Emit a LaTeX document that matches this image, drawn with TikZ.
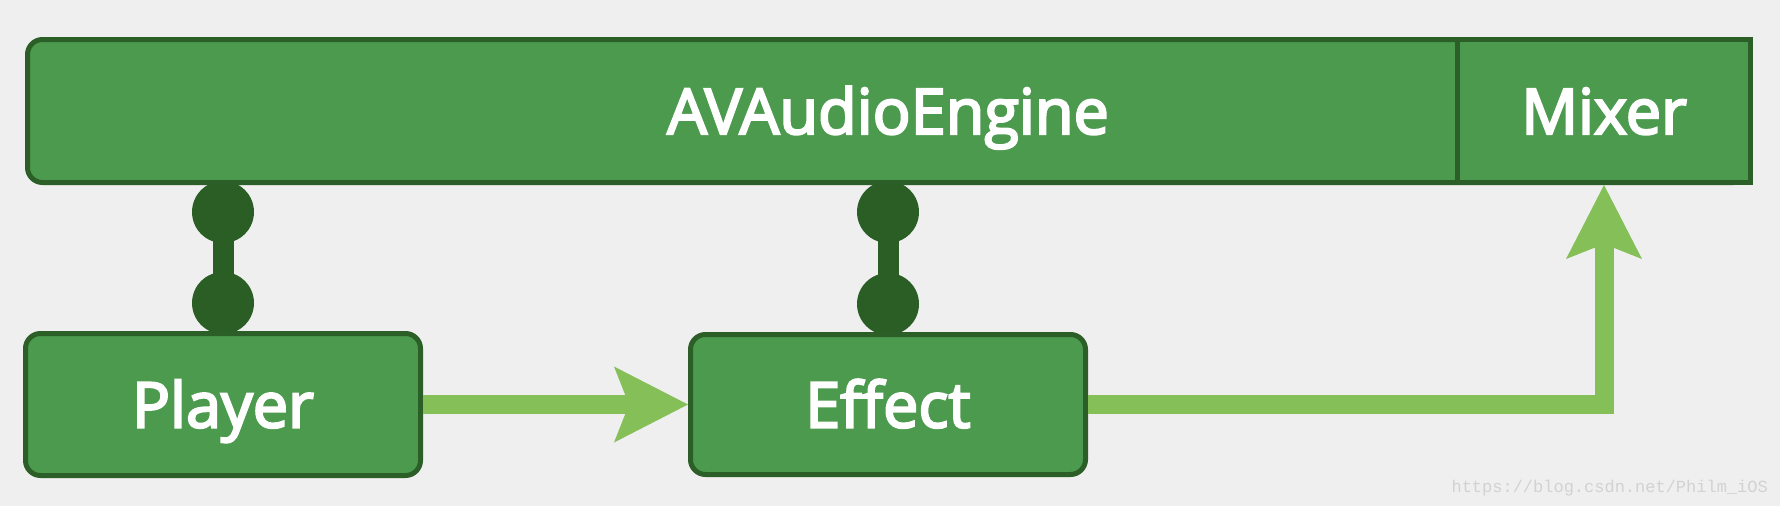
\documentclass[tikz,border=0pt]{standalone}
\usepackage{fontspec}
\setmainfont{Open Sans}
\newfontfamily\boxfont[FakeBold=3.5]{Open Sans}
\newfontfamily\wmfont{Liberation Mono}
\usetikzlibrary{arrows.meta,shadows,calc}
\pgfdeclarelayer{bg}
\pgfsetlayers{bg,main}
\definecolor{bgc}{HTML}{EFEFEF}
\definecolor{boxfill}{HTML}{4B9A4D}
\definecolor{boxline}{HTML}{2B5F27}
\definecolor{linkc}{HTML}{2A5E24}
\definecolor{arrowc}{HTML}{84BF58}
\definecolor{wmc}{HTML}{D2D2D2}
\begin{document}
\begin{tikzpicture}[x=1pt,y=-1pt,
  box/.style={draw=boxline, fill=boxfill, line width=5pt, text=white,
    font=\boxfont\fontsize{63}{70}\selectfont, inner sep=0pt, text height=46pt, text depth=0pt,
    drop shadow={opacity=0.25,shadow xshift=1pt,shadow yshift=-2pt}},
  rbox/.style={box, rounded corners=15pt},
  flow/.style={draw=arrowc, line width=19pt,
    -{Stealth[length=74pt,width=76pt,inset=15pt,line width=0pt]}},
  link/.style={draw=linkc, line width=21pt},
  knob/.style={fill=linkc}]
\useasboundingbox (0,0) rectangle (1780,506);
\node[rbox, minimum width=1721pt, minimum height=143pt] (engine) at (888,111) {AVAudioEngine};
\node[box, minimum width=293pt, minimum height=143pt] (mixer) at (1604,111) {Mixer};
\node[rbox, minimum width=395pt, minimum height=142pt] (player) at (223,404.5) {Player};
\node[rbox, minimum width=395pt, minimum height=140pt] (effect) at (888,404.5) {Effect};
\node[anchor=base east, text=wmc, font=\wmfont\fontsize{17}{20}\selectfont, inner sep=0pt] (wm) at (1768,492) {https://blog.csdn.net/Philm\_iOS};
\begin{pgfonlayer}{bg}
  \fill[bgc] (0,0) rectangle (1780,506);
  \coordinate (pa) at ($(engine.south -| player.north)+(0,27)$);
  \coordinate (pb) at ($(player.north)+(0,-28)$);
  \coordinate (ea) at ($(engine.south -| effect.north)+(0,27)$);
  \coordinate (eb) at ($(effect.north)+(0,-28)$);
  \draw[link] (pa) -- (pb);
  \fill[knob] (pa) circle[radius=31pt];
  \fill[knob] (pb) circle[radius=31pt];
  \draw[link] (ea) -- (eb);
  \fill[knob] (ea) circle[radius=31pt];
  \fill[knob] (eb) circle[radius=31pt];
\end{pgfonlayer}
\draw[flow] (player.east) -- (effect.west);
\draw[flow] (effect.east) -- (effect.east -| mixer.south) -- (mixer.south);
\end{tikzpicture}
\end{document}
